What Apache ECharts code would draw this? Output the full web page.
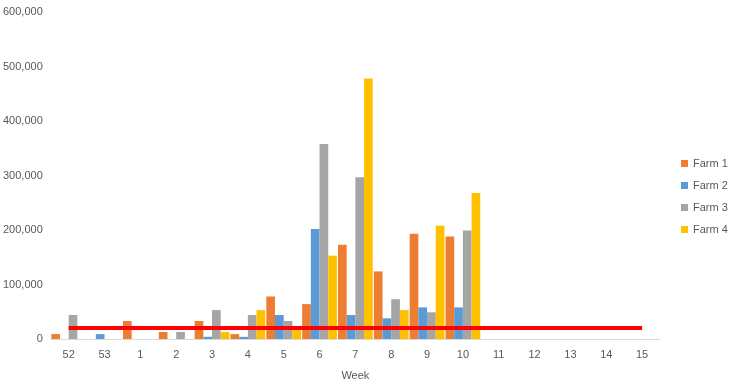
<!DOCTYPE html>
<html>
<head>
<meta charset="utf-8">
<script src="https://cdn.jsdelivr.net/npm/echarts@6/dist/echarts.min.js"></script>
<style>html,body{margin:0;padding:0;background:#fff;}#c{width:731px;height:386px;}</style>
</head>
<body>
<div id="c"></div>
<script>
const weeks = ['52','53','1','2','3','4','5','6','7','8','9','10','11','12','13','14','15'];
const farm1 = [9000, 0, 33000, 13000, 33000, 9000, 78000, 64000, 173000, 124000, 193000, 188000, 0, 0, 0, 0, 0];
const farm2 = [0, 9000, 0, 0, 4000, 4000, 44000, 202000, 44000, 38000, 58000, 58000, 0, 0, 0, 0, 0];
const farm3 = [44000, 0, 0, 13000, 53000, 44000, 33000, 358000, 297000, 73000, 49000, 199000, 0, 0, 0, 0, 0];
const farm4 = [0, 0, 0, 0, 13000, 53000, 23000, 153000, 478000, 53000, 208000, 268000, 0, 0, 0, 0, 0];
const threshold = [20000, 20000, 20000, 20000, 20000, 20000, 20000, 20000, 20000, 20000, 20000, 20000, 20000, 20000, 20000, 20000, 20000];
const seriesNames = ['Farm 1', 'Farm 2', 'Farm 3', 'Farm 4'];
const colors = ['#ED7D31', '#5B9BD5', '#A5A5A5', '#FFC000'];

const font = 'Liberation Sans';
const chart = echarts.init(document.getElementById('c'));
const farms = [farm1, farm2, farm3, farm4];
const barSeries = farms.map((d, i) => ({
  name: seriesNames[i],
  type: 'bar',
  data: d,
  barGap: '0%',
  barCategoryGap: '3%',
  itemStyle: { color: colors[i] }
}));
chart.setOption({
  animation: false,
  grid: { left: 48, right: 71, top: 12, bottom: 43, containLabel: false },
  legend: {
    data: seriesNames,
    orient: 'vertical',
    left: 676,
    top: 153,
    itemWidth: 7,
    itemHeight: 7,
    itemGap: 11,
    icon: 'rect',
    textStyle: { color: '#595959', fontSize: 11, fontFamily: font }
  },
  xAxis: {
    type: 'category',
    data: weeks,
    name: 'Week',
    nameLocation: 'middle',
    nameGap: 31,
    nameTextStyle: { color: '#595959', fontSize: 11, fontFamily: font },
    axisTick: { show: false },
    axisLine: { lineStyle: { color: '#D9D9D9', width: 1 } },
    axisLabel: { color: '#595959', fontSize: 11, fontFamily: font, margin: 10 }
  },
  yAxis: {
    type: 'value',
    min: 0,
    max: 600000,
    interval: 100000,
    splitLine: { show: false },
    axisLine: { show: false },
    axisTick: { show: false },
    axisLabel: {
      color: '#595959', fontSize: 11, fontFamily: font, margin: 8,
      formatter: v => v.toLocaleString('en-US')
    }
  },
  series: barSeries.concat([{
    name: 'Threshold',
    type: 'line',
    data: threshold,
    symbol: 'none',
    lineStyle: { color: '#FF0000', width: 4 },
    z: 5
  }])
});
</script>
</body>
</html>
